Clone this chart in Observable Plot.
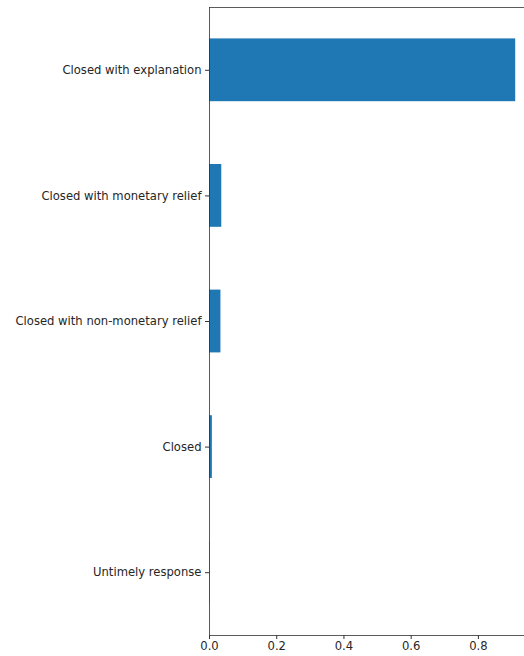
<!DOCTYPE html>
<html>
<head>
<meta charset="utf-8">
<script src="https://cdn.jsdelivr.net/npm/d3@7"></script>
<script src="https://cdn.jsdelivr.net/npm/@observablehq/plot@0.6"></script>
<style>
  html, body { margin: 0; padding: 0; background: #fff; overflow: hidden; }
  #chart svg { display: block; }
</style>
</head>
<body>
<div id="chart"></div>
<script>
const categories = [
  "Closed with explanation",
  "Closed with monetary relief",
  "Closed with non-monetary relief",
  "Closed",
  "Untimely response"
];
const values = [0.911, 0.0365, 0.034, 0.0085, 0.0015];
const xTicks = [0, 0.2, 0.4, 0.6, 0.8];

const data = categories.map((c, i) => ({category: c, value: values[i]}));

const chart = Plot.plot({
  width: 524,
  height: 656,
  marginLeft: 209,
  marginRight: -7,
  marginTop: 7,
  marginBottom: 21,
  style: {fontFamily: "DejaVu Sans", fontSize: "11.6px", color: "#262626", background: "#fff", overflow: "hidden"},
  x: {domain: [0, 0.958], ticks: xTicks, tickFormat: d3.format(".1f"), label: null},
  y: {domain: categories, paddingInner: 0.5, paddingOuter: 0.25, round: false, label: null},
  marks: [
    Plot.barX(data, {x: "value", y: "category", fill: "#1f77b4"}),
    Plot.frame({stroke: "#333", strokeWidth: 0.8}),
    Plot.axisX({ticks: xTicks, tickFormat: d3.format(".1f"), tickSize: 4, tickPadding: 2.5, label: null, stroke: "#333", fill: "#262626", fontSize: 11.6}),
    Plot.axisY({tickSize: 4, tickPadding: 4, label: null, stroke: "#333", fill: "#262626", fontSize: 11.6})
  ]
});
document.getElementById("chart").appendChild(chart);
</script>
</body>
</html>
